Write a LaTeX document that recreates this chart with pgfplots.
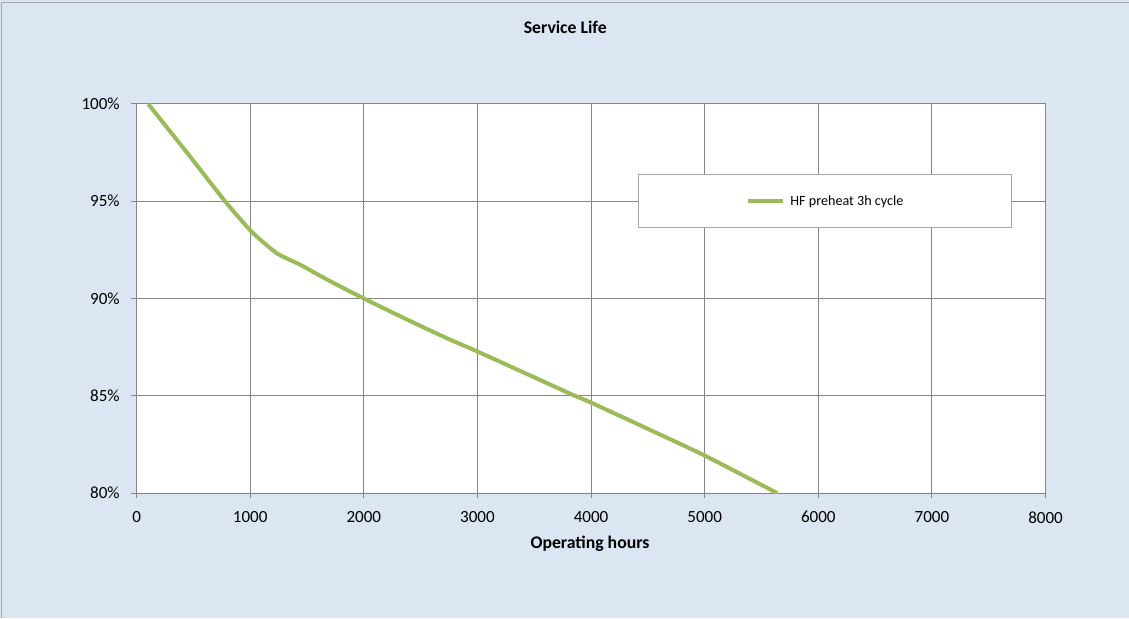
\documentclass[border=0pt]{standalone}
\usepackage{pgfplots}
\pgfplotsset{compat=1.18}
\usepackage{fontspec}
\setmainfont{Carlito}

\definecolor{chartbg}{HTML}{DCE6F2}
\definecolor{gridgray}{HTML}{868686}
\definecolor{framegray}{HTML}{A6A6A6}
\definecolor{seriesgreen}{HTML}{9BBB59}

\begin{document}
\begin{tikzpicture}[x=1pt,y=1pt]
    % chart area (1px = 0.75pt)
    \fill[chartbg] (0,0) rectangle (846.75,463.5);
    \draw[framegray, line width=0.75pt] (1.2,0) -- (1.2,461.3) -- (846.75,461.3);

    \node[anchor=base, font=\bfseries\fontsize{13.3}{15}\selectfont] at (424.1,438.5) {Service Life};
    \node[anchor=base, font=\bfseries\fontsize{13.3}{15}\selectfont] at (442.7,51.75) {Operating hours};

    \begin{axis}[
        at={(102.5pt,93.5pt)}, anchor=south west,
        scale only axis,
        width=682pt, height=292pt,
        axis background/.style={fill=white},
        xmin=0, xmax=8000,
        ymin=80, ymax=100,
        xtick={0,1000,2000,3000,4000,5000,6000,7000,8000},
        xticklabels={0,1000,2000,3000,4000,5000,6000,7000,8000},
        ytick={80,85,90,95,100},
        yticklabels={80\%,85\%,90\%,95\%,100\%},
        tick pos=left,
        tick align=outside,
        major tick length=4pt,
        tick style={gridgray, line width=0.75pt},
        axis line style={gridgray, line width=0.75pt},
        grid=major,
        major grid style={gridgray, line width=0.75pt},
        xticklabel style={font=\fontsize{12.8}{14}\selectfont, inner sep=0pt, yshift=-9.5pt},
        yticklabel style={font=\fontsize{12.8}{14}\selectfont, inner sep=0pt, xshift=-8.5pt},
        legend image code/.code={\draw[#1] (0pt,0pt) -- (26pt,0pt);},
        legend style={
            at={(0.757,0.750)}, anchor=center,
            draw=framegray, line width=0.75pt, fill=white,
            inner xsep=81pt, inner ysep=15.5pt,
            font=\fontsize{10.6}{12}\selectfont,
            column sep=4.3pt,
            nodes={inner sep=0pt},
        },
    ]
        \addplot[seriesgreen, line width=3pt, smooth, tension=0.35] coordinates {
            (102,100)
            (450,97.45)
            (778,95.0)
            (1013,93.43)
            (1233,92.33)
            (1439,91.74)
            (1703,90.89)
            (2000,90.00)
            (2437,88.76)
            (2750,87.91)
            (3010,87.25)
            (3500,85.95)
            (3838,85.05)
            (4000,84.65)
            (4500,83.30)
            (5000,81.93)
            (5638,80.00)
        };
        \addlegendentry{HF preheat 3h cycle}
    \end{axis}
\end{tikzpicture}
\end{document}
